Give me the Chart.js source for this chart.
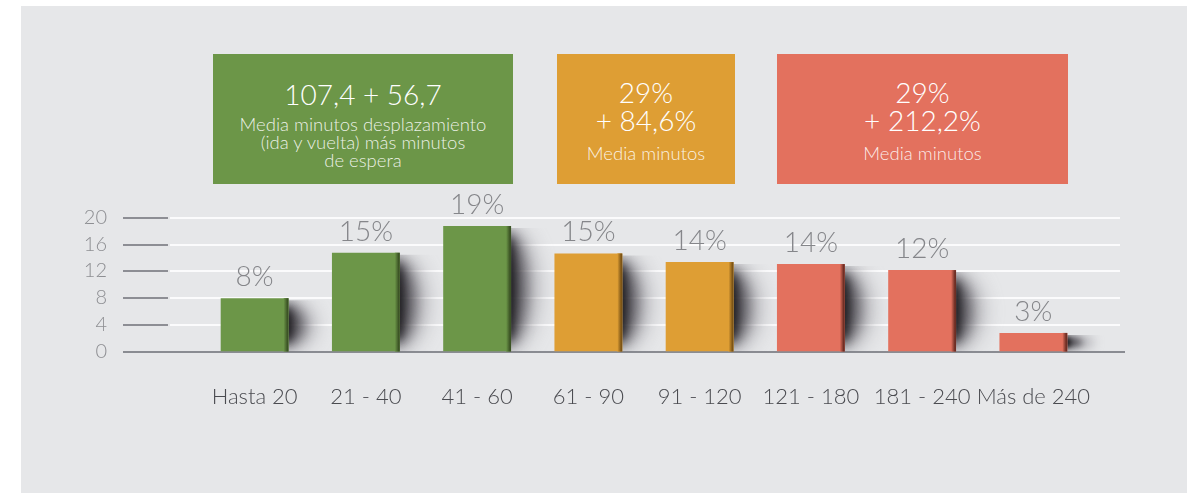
<!DOCTYPE html>
<html lang="es">
<head>
<meta charset="utf-8">
<title>Minutos de desplazamiento</title>
<script src="https://cdn.jsdelivr.net/npm/chart.js@4.4.1/dist/chart.umd.min.js"></script>
<style>
    html, body { margin: 0; padding: 0; background: #fff; }
    body { width: 1198px; height: 493px; position: relative; overflow: hidden; font-family: Lato, 'Open Sans', sans-serif; }
    .panel { position: absolute; left: 21px; top: 6px; width: 1166px; height: 487px; background: #e6e7e9; }
    #chart { position: absolute; left: 0; top: 0; }
    .box { position: absolute; top: 54px; height: 130px; color: #fff; text-align: center; font-weight: 300; box-sizing: border-box; }
    .box .big { font-size: 28px; line-height: 28px; }
    .box .small { font-size: 18.5px; line-height: 18px; color: rgba(255,255,255,0.88); }
    .green { left: 213px; width: 300px; background: #6c9648; padding-top: 26px; }
    .orange { left: 557px; width: 178px; background: #de9e34; padding-top: 24px; }
    .red { left: 777px; width: 291px; background: #e3715e; padding-top: 24px; }
    .green .big { margin-bottom: 7px; }
    .orange .small, .red .small { margin-top: 10px; }
</style>
</head>
<body>
<div class="panel"></div>
<canvas id="chart" width="1198" height="493"></canvas>

<div class="box green">
    <div class="big">107,4 + 56,7</div>
    <div class="small">Media minutos desplazamiento<br>(ida y vuelta) más minutos<br>de espera</div>
</div>
<div class="box orange">
    <div class="big">29%<br>+ 84,6%</div>
    <div class="small">Media minutos</div>
</div>
<div class="box red">
    <div class="big">29%<br>+ 212,2%</div>
    <div class="small">Media minutos</div>
</div>

<script>
const categories = ['Hasta 20', '21 - 40', '41 - 60', '61 - 90', '91 - 120', '121 - 180', '181 - 240', 'Más de 240'];
const shares = [8, 14.8, 18.8, 14.7, 13.4, 13.1, 12.2, 2.8];
const shareLabels = ['8%', '15%', '19%', '15%', '14%', '14%', '12%', '3%'];
const yTicks = [0, 4, 8, 12, 16, 20];

const barColors = ['#6c9648', '#6c9648', '#6c9648', '#de9e34', '#de9e34', '#e3715e', '#e3715e', '#e3715e'];
const edgeColors = ['#3c5425', '#3c5425', '#3c5425', '#7d5516', '#7d5516', '#6e2e24', '#6e2e24', '#6e2e24'];

function blurredEllipse(ctx, cx, cy, rx, ry, blur, color) {
    ctx.save();
    ctx.filter = 'blur(' + blur.toFixed(1) + 'px)';
    ctx.fillStyle = color;
    ctx.beginPath();
    ctx.ellipse(cx, cy, rx, Math.max(ry, 2), 0, 0, Math.PI * 2);
    ctx.fill();
    ctx.restore();
}

// grid, axis marks, bar shadows and value labels
const decor = {
    id: 'decor',
    beforeDatasetsDraw(chart) {
        const ctx = chart.ctx;
        const y = chart.scales.y;

        ctx.save();
        yTicks.forEach(v => {
            const py = Math.round(y.getPixelForValue(v));
            if (v > 0) {
                ctx.strokeStyle = '#fbfbfc';
                ctx.lineWidth = 2;
                ctx.beginPath();
                ctx.moveTo(170, py);
                ctx.lineTo(1120, py);
                ctx.stroke();
                ctx.strokeStyle = '#6f7177';
                ctx.lineWidth = 1.5;
                ctx.beginPath();
                ctx.moveTo(123, py);
                ctx.lineTo(168, py);
                ctx.stroke();
            }
            ctx.fillStyle = '#8e8f93';
            ctx.font = '300 20px Lato';
            ctx.textAlign = 'right';
            ctx.textBaseline = 'middle';
            ctx.fillText(String(v), 107, py);
        });
        const py0 = Math.round(y.getPixelForValue(0));
        ctx.strokeStyle = '#8a8c92';
        ctx.lineWidth = 2;
        ctx.beginPath();
        ctx.moveTo(123, py0);
        ctx.lineTo(1125, py0);
        ctx.stroke();

        // soft shadow to the right of each bar: wide light halo + dark core
        chart.getDatasetMeta(0).data.forEach(bar => {
            const p = bar.getProps(['x', 'y', 'base', 'width'], true);
            const right = p.x + p.width / 2;
            const h = p.base - p.y;
            const cy = p.y + h / 2;
            const k = Math.min(1, h / 60);
            ctx.save();
            ctx.beginPath();
            ctx.rect(right, p.y + 2, 50, h - 2);
            ctx.clip();
            blurredEllipse(ctx, right - 4, cy, 31, h / 2 - 1, 3 + 7 * k, 'rgba(125,123,132,0.5)');
            blurredEllipse(ctx, right - 4, cy, 19, h / 2 - 4 * k - 2, 2 + 5 * k, 'rgba(45,43,50,0.7)');
            blurredEllipse(ctx, right - 2, cy, 6, h / 2 - 10 * k - 1, 1.5 + 3 * k, 'rgba(15,14,16,0.8)');
            ctx.restore();
        });
        ctx.restore();
    },
    afterDatasetsDraw(chart) {
        const ctx = chart.ctx;
        ctx.save();
        chart.getDatasetMeta(0).data.forEach((bar, i) => {
            const p = bar.getProps(['x', 'y', 'base', 'width'], true);
            const right = p.x + p.width / 2;
            const h = p.base - p.y;
            const g = ctx.createLinearGradient(right - 5, 0, right, 0);
            g.addColorStop(0, barColors[i]);
            g.addColorStop(0.75, edgeColors[i]);
            g.addColorStop(1, edgeColors[i]);
            ctx.fillStyle = g;
            ctx.fillRect(right - 5, p.y, 5, h);

            ctx.fillStyle = '#85868a';
            ctx.font = '300 28px Lato';
            ctx.textAlign = 'center';
            ctx.textBaseline = 'alphabetic';
            ctx.fillText(shareLabels[i], p.x, p.y - 12);
        });
        ctx.restore();
    }
};

new Chart(document.getElementById('chart'), {
    type: 'bar',
    data: {
        labels: categories,
        datasets: [{
            data: shares,
            backgroundColor: barColors,
            borderWidth: 0,
            categoryPercentage: 1,
            barPercentage: 0.61
        }]
    },
    options: {
        responsive: false,
        animation: false,
        devicePixelRatio: 1,
        layout: { padding: { left: 199, right: 109, top: 218, bottom: 51 } },
        plugins: { legend: { display: false }, tooltip: { enabled: false } },
        scales: {
            x: {
                grid: { display: false, drawTicks: false },
                border: { display: false },
                ticks: {
                    color: '#4a4b50',
                    padding: 32,
                    maxRotation: 0,
                    autoSkip: false,
                    font: { family: 'Lato', size: 22, weight: '300' }
                }
            },
            y: { display: false, min: 0, max: 20 }
        }
    },
    plugins: [decor]
});
</script>
</body>
</html>
